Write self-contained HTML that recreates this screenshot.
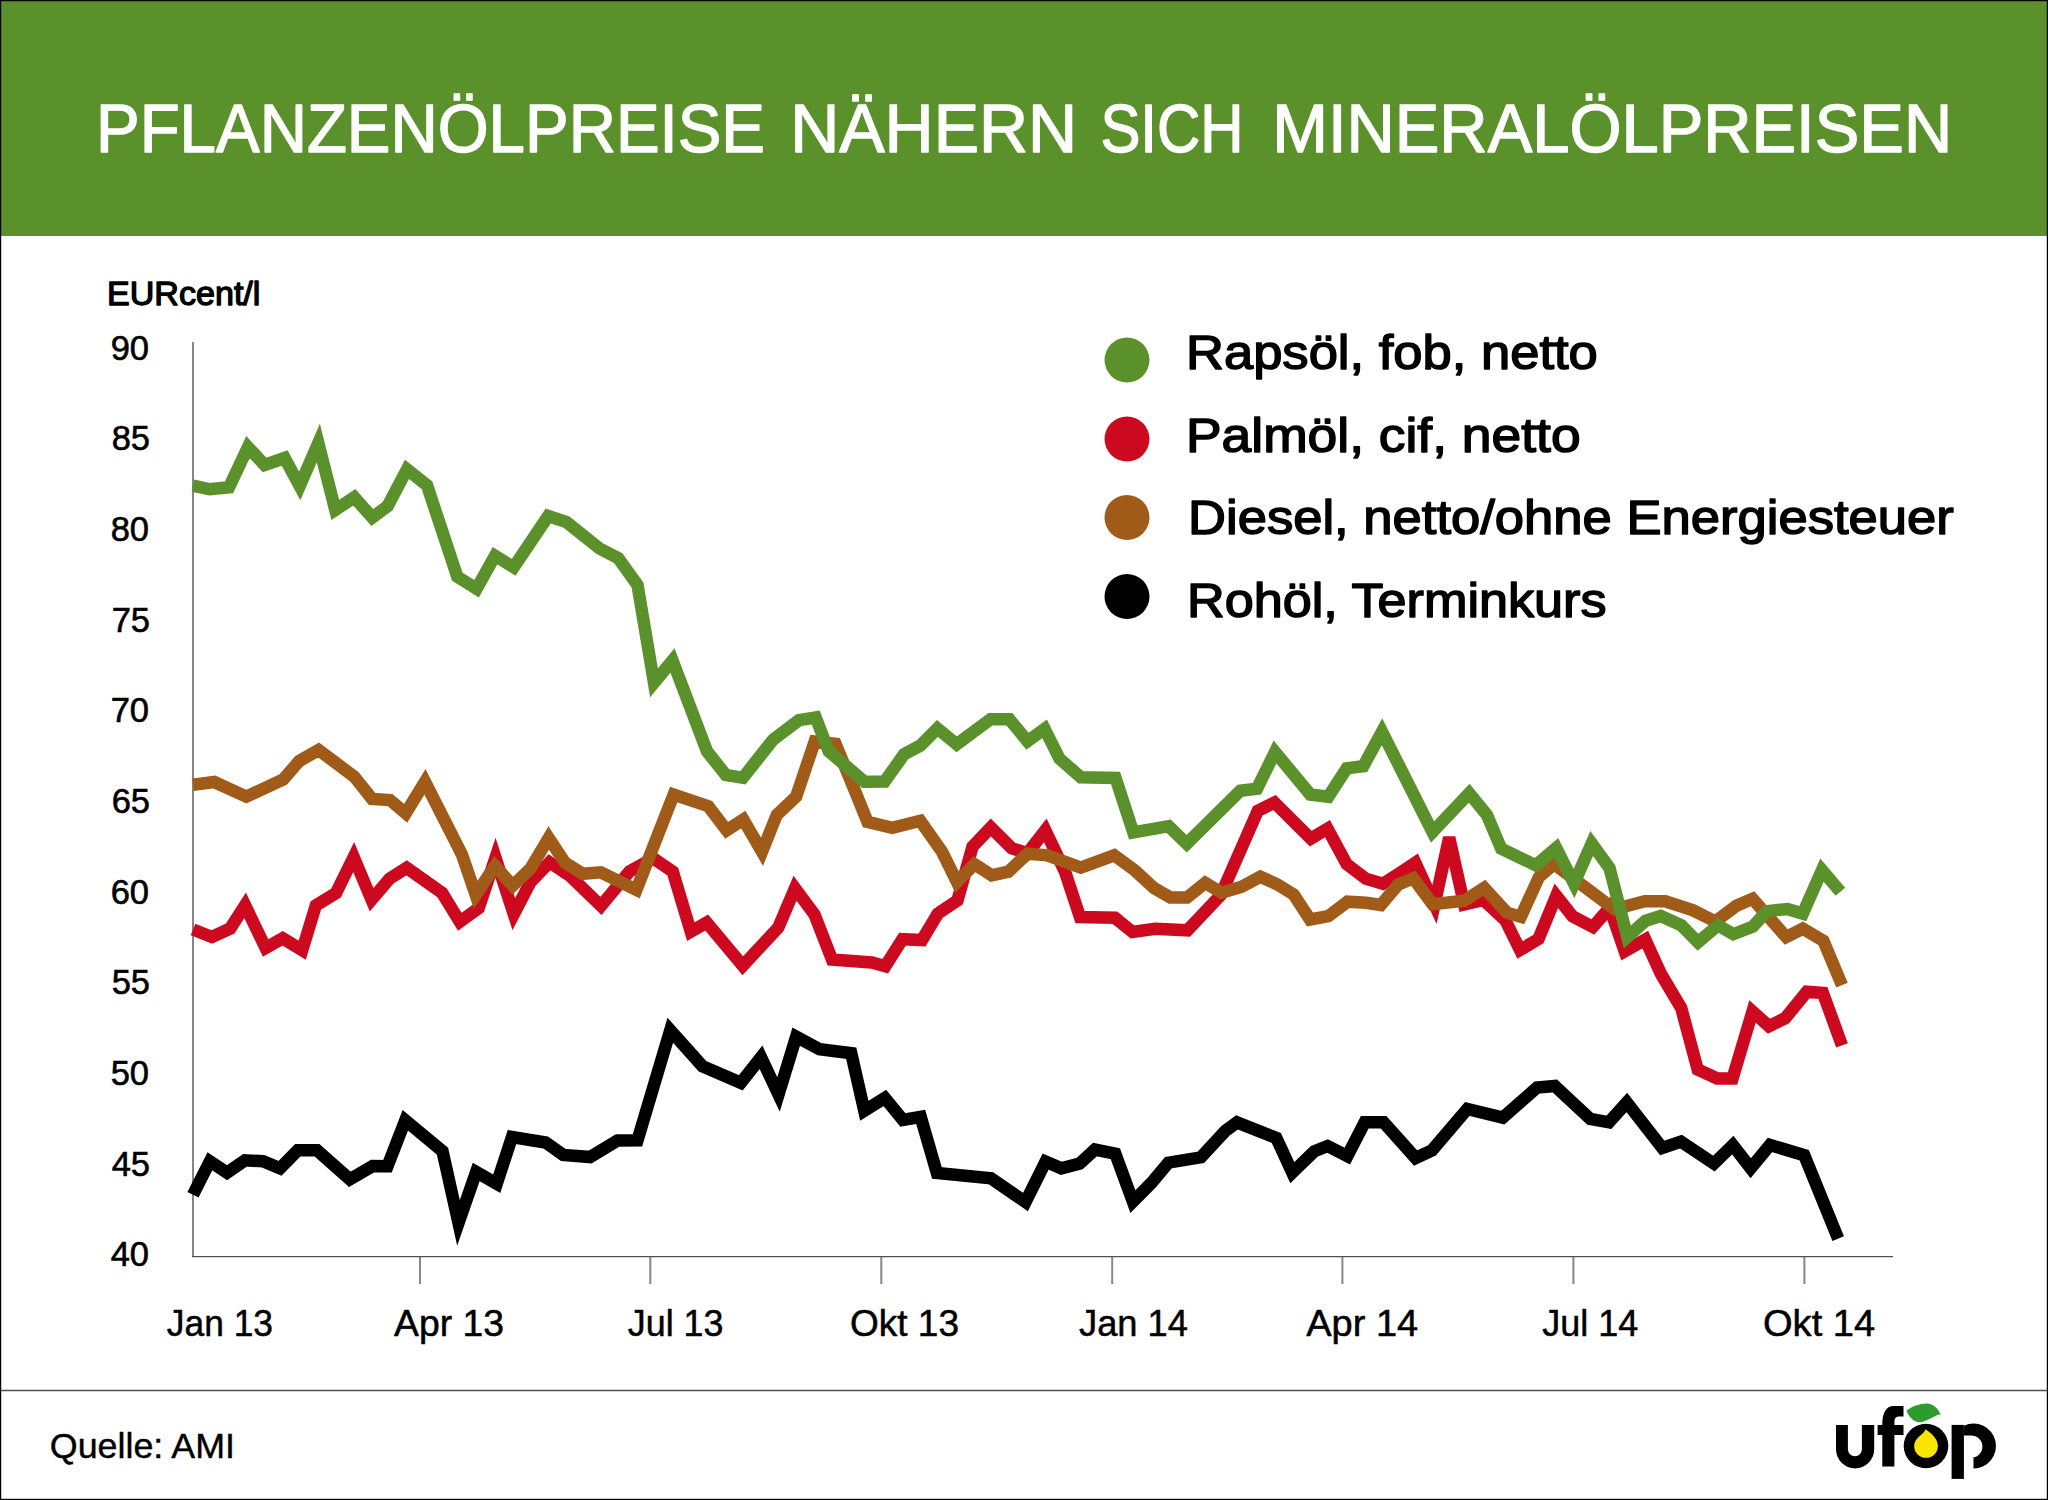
<!DOCTYPE html>
<html><head><meta charset="utf-8">
<style>
html,body{margin:0;padding:0;background:#fff;}
body{width:2048px;height:1500px;overflow:hidden;}
svg{display:block;}
text{font-family:"Liberation Sans",sans-serif;}
</style></head>
<body>
<svg width="2048" height="1500" viewBox="0 0 2048 1500">
<rect x="0" y="0" width="2048" height="1500" fill="#fff"/>
<!-- header -->
<rect x="0" y="0" width="2048" height="236" fill="#5b912a"/>
<text x="96.00" y="152.30" font-size="69" font-weight="normal" fill="#fff" stroke="#fff" stroke-width="1.4" stroke-linejoin="round" textLength="669.00" lengthAdjust="spacingAndGlyphs">PFLANZENÖLPREISE</text>
<text x="790.20" y="152.30" font-size="69" font-weight="normal" fill="#fff" stroke="#fff" stroke-width="1.4" stroke-linejoin="round" textLength="287.00" lengthAdjust="spacingAndGlyphs">NÄHERN</text>
<text x="1100.40" y="152.30" font-size="69" font-weight="normal" fill="#fff" stroke="#fff" stroke-width="1.4" stroke-linejoin="round" textLength="143.20" lengthAdjust="spacingAndGlyphs">SICH</text>
<text x="1272.20" y="152.30" font-size="69" font-weight="normal" fill="#fff" stroke="#fff" stroke-width="1.4" stroke-linejoin="round" textLength="680.00" lengthAdjust="spacingAndGlyphs">MINERALÖLPREISEN</text>
<text x="107.00" y="304.70" font-size="33" font-weight="normal" fill="#000" stroke="#000" stroke-width="1.3" stroke-linejoin="round" textLength="153.40" lengthAdjust="spacingAndGlyphs">EURcent/l</text>
<text x="166.80" y="1335.70" font-size="36.5" font-weight="normal" fill="#000" stroke="#000" stroke-width="0.5" stroke-linejoin="round" textLength="106.20" lengthAdjust="spacingAndGlyphs">Jan 13</text>
<text x="394.00" y="1335.70" font-size="36.5" font-weight="normal" fill="#000" stroke="#000" stroke-width="0.5" stroke-linejoin="round" textLength="110.00" lengthAdjust="spacingAndGlyphs">Apr 13</text>
<text x="627.80" y="1335.70" font-size="36.5" font-weight="normal" fill="#000" stroke="#000" stroke-width="0.5" stroke-linejoin="round" textLength="95.60" lengthAdjust="spacingAndGlyphs">Jul 13</text>
<text x="850.00" y="1335.70" font-size="36.5" font-weight="normal" fill="#000" stroke="#000" stroke-width="0.5" stroke-linejoin="round" textLength="109.00" lengthAdjust="spacingAndGlyphs">Okt 13</text>
<text x="1079.00" y="1335.70" font-size="36.5" font-weight="normal" fill="#000" stroke="#000" stroke-width="0.5" stroke-linejoin="round" textLength="109.00" lengthAdjust="spacingAndGlyphs">Jan 14</text>
<text x="1306.20" y="1335.70" font-size="36.5" font-weight="normal" fill="#000" stroke="#000" stroke-width="0.5" stroke-linejoin="round" textLength="112.00" lengthAdjust="spacingAndGlyphs">Apr 14</text>
<text x="1542.20" y="1335.70" font-size="36.5" font-weight="normal" fill="#000" stroke="#000" stroke-width="0.5" stroke-linejoin="round" textLength="96.00" lengthAdjust="spacingAndGlyphs">Jul 14</text>
<text x="1763.00" y="1335.70" font-size="36.5" font-weight="normal" fill="#000" stroke="#000" stroke-width="0.5" stroke-linejoin="round" textLength="112.20" lengthAdjust="spacingAndGlyphs">Okt 14</text>
<text x="1186.00" y="369.30" font-size="48.6" font-weight="normal" fill="#000" stroke="#000" stroke-width="1.5" stroke-linejoin="round" textLength="411.80" lengthAdjust="spacingAndGlyphs">Rapsöl, fob, netto</text>
<text x="1186.00" y="452.30" font-size="48.6" font-weight="normal" fill="#000" stroke="#000" stroke-width="1.5" stroke-linejoin="round" textLength="394.60" lengthAdjust="spacingAndGlyphs">Palmöl, cif, netto</text>
<text x="1188.00" y="534.30" font-size="48.6" font-weight="normal" fill="#000" stroke="#000" stroke-width="1.5" stroke-linejoin="round" textLength="765.80" lengthAdjust="spacingAndGlyphs">Diesel, netto/ohne Energiesteuer</text>
<text x="1187.00" y="616.60" font-size="48.6" font-weight="normal" fill="#000" stroke="#000" stroke-width="1.5" stroke-linejoin="round" textLength="419.60" lengthAdjust="spacingAndGlyphs">Rohöl, Terminkurs</text>
<text x="49.80" y="1458.00" font-size="35.5" font-weight="normal" fill="#000" stroke="#000" stroke-width="0.4" stroke-linejoin="round" textLength="185.20" lengthAdjust="spacingAndGlyphs">Quelle: AMI</text>
<text x="149.00" y="359.80" font-size="34.5" fill="#000" stroke="#000" stroke-width="0.6" text-anchor="end">90</text>
<text x="150.00" y="450.45" font-size="34.5" fill="#000" stroke="#000" stroke-width="0.6" text-anchor="end">85</text>
<text x="149.00" y="541.10" font-size="34.5" fill="#000" stroke="#000" stroke-width="0.6" text-anchor="end">80</text>
<text x="150.00" y="631.75" font-size="34.5" fill="#000" stroke="#000" stroke-width="0.6" text-anchor="end">75</text>
<text x="149.00" y="722.40" font-size="34.5" fill="#000" stroke="#000" stroke-width="0.6" text-anchor="end">70</text>
<text x="150.00" y="813.05" font-size="34.5" fill="#000" stroke="#000" stroke-width="0.6" text-anchor="end">65</text>
<text x="149.00" y="903.70" font-size="34.5" fill="#000" stroke="#000" stroke-width="0.6" text-anchor="end">60</text>
<text x="150.00" y="994.35" font-size="34.5" fill="#000" stroke="#000" stroke-width="0.6" text-anchor="end">55</text>
<text x="149.00" y="1085.00" font-size="34.5" fill="#000" stroke="#000" stroke-width="0.6" text-anchor="end">50</text>
<text x="150.00" y="1175.65" font-size="34.5" fill="#000" stroke="#000" stroke-width="0.6" text-anchor="end">45</text>
<text x="149.00" y="1266.30" font-size="34.5" fill="#000" stroke="#000" stroke-width="0.6" text-anchor="end">40</text>
<!-- axes -->
<g fill="none">
<path d="M193 342 V1256.6" stroke="#868686" stroke-width="2"/>
<path d="M420 1256 V1284 M650.3 1256 V1284 M881.3 1256 V1284 M1112.2 1256 V1284 M1342.4 1256 V1284 M1573.4 1256 V1284 M1804.4 1256 V1284" stroke="#888" stroke-width="2"/>
<path d="M192 1256.6 H1893" stroke="#505050" stroke-width="1.4"/>
</g>
<!-- legend -->
<circle cx="1127" cy="360" r="22.5" fill="#5b912a"/>
<circle cx="1127" cy="439" r="22.5" fill="#cd091f"/>
<circle cx="1127" cy="517.5" r="22.5" fill="#a15b19"/>
<circle cx="1127" cy="596.5" r="22.5" fill="#000"/>
<polyline fill="none" stroke="#cd091f" stroke-width="12.5" stroke-linejoin="miter" stroke-miterlimit="4" stroke-linecap="butt" points="193,929.5 211.9,937 230.2,928.5 245.1,905.3 265.6,948 282.7,938.3 302.2,950.2 315.9,905.3 336,893.1 353.7,857.1 371.6,899.8 389.5,878.8 406.7,867.8 442.1,892.9 459.8,921.8 478.7,908.1 495.5,857.7 513.8,914.2 530.6,881.9 549.5,862.3 569.9,875.8 601,905.9 629.5,871.5 653.3,858.3 672.8,871.7 690.8,931.7 706.7,922.5 742.8,965.8 778.3,927.5 795,888.3 814.5,914.5 832,959.5 871.8,962.5 885.3,966.2 902.5,939.2 922,940 937.8,913.7 957.5,900.3 972.5,846.7 990.8,827.5 1011.7,848.3 1027.5,853.2 1045.3,830.3 1065,871.7 1080,917 1115,917.8 1132.5,932 1155,928.7 1187.5,930.3 1220.8,895 1257.8,810.8 1274.5,802.5 1310.8,838.7 1327.5,828.7 1346.7,864.2 1365.8,878.7 1382.8,883.7 1396.7,875 1415.3,862.8 1434.5,904.5 1449.2,837.5 1464.2,904.5 1483.3,900 1505.5,920.5 1520,950 1538.5,939 1556.3,895.8 1572.6,916.4 1592.8,927 1609.6,907.8 1624.7,951.3 1645.3,939.6 1661,974 1681.2,1008 1697.7,1069.5 1717.2,1078.5 1732.5,1078.5 1752.5,1011.5 1769,1026.2 1785.2,1018.2 1806.8,991.8 1822.9,992.9 1842,1045.4"/>
<polyline fill="none" stroke="#a15b19" stroke-width="12.5" stroke-linejoin="miter" stroke-miterlimit="4" stroke-linecap="butt" points="193,784.7 214.3,782 246.3,796.7 283.3,779.3 299.3,761 318.6,750 354.3,776.7 372,799 390,800 405.7,813.3 425,781.8 462,854.7 475.7,894.7 495,866 512.7,885.7 530.6,868.4 548.7,838.1 564.8,862.5 582.9,873.8 600.9,872.3 636.4,889.8 673.7,794.5 708.3,806.2 726.7,830.3 743.3,819.5 762,851.7 776.7,815 796.2,796.5 814.7,741.5 835.5,743.9 855,791 867.5,821.9 892.3,827.9 920.3,820.8 942,851.7 957,882 974.5,864.2 991.7,875.3 1008.3,871.7 1027.5,853.7 1047.5,855.3 1080.8,867.5 1114.2,855.3 1135.3,870.8 1154.2,888.3 1170.3,897.5 1187,897.5 1205.3,882.8 1221.7,892.8 1241.7,886.7 1260.3,876.7 1277,884.2 1293.7,894.5 1310,919.5 1328.3,916.2 1347.5,901.7 1366.2,902.8 1380.8,905 1398.3,884.5 1413.3,878.3 1432.5,904.2 1464.2,900.8 1484.2,887.8 1507,912.8 1520.8,916.7 1539,877 1554,864 1614.4,909.2 1644.8,901.2 1665.3,901.3 1693.1,910.4 1715.4,921.5 1736.4,905.8 1752.6,898.8 1786.3,937.1 1802.8,928.7 1823.4,940.8 1842,985.2"/>
<polyline fill="none" stroke="#5b912a" stroke-width="12.5" stroke-linejoin="miter" stroke-miterlimit="4" stroke-linecap="butt" points="193,485.6 209.7,489.3 229,487.3 248,447 264.6,465 284.6,458 299.7,486 318.3,443 335.3,510 354.3,497.3 372.3,517.6 387.7,506 407,469.3 427,485.3 457.3,576.7 476.6,588.8 495,555.7 513.7,567.3 548.2,516 566.5,522.1 599.6,548.6 618.2,558.2 637.5,585 654,682.8 672.5,660.5 707.1,751.5 725.8,774.9 742.9,777.8 773.3,739.4 798.9,720.2 815.7,717.5 828.7,751.2 864.5,781.7 884.6,781.6 904.2,754.1 920.3,745.6 937.4,728.5 956.7,744.3 990.5,719.3 1009.4,719.3 1027.5,741.3 1044.6,728.8 1059.5,758.7 1080.8,777.3 1115.5,777.9 1133.3,832.5 1168.7,826.2 1186.7,843.7 1240.3,790.8 1257,788.7 1275,752 1310.3,794.5 1328.3,796.7 1346.7,768.3 1363.3,766.2 1382,731.7 1432.5,832 1469.2,793.3 1487,815 1501.2,848.7 1535.8,865.3 1556.2,848 1574,883.5 1591.7,843.5 1609.5,868 1627.3,937 1645.5,920.8 1660.7,916 1681.3,925.3 1698,942.3 1718,925.3 1733.3,934.2 1753,926.5 1766.9,911.1 1787.4,909 1802.8,913.6 1822,870.1 1840.4,891.8"/>
<polyline fill="none" stroke="#000" stroke-width="12.5" stroke-linejoin="miter" stroke-miterlimit="4" stroke-linecap="butt" points="193,1194.7 209.9,1161.3 227,1172.7 245,1160.3 263,1161.3 280,1168.3 297.7,1150.3 317,1150.3 349.8,1179.3 372.6,1166 387.5,1166.2 405.3,1120.3 442.5,1151.2 458.5,1222.9 476.2,1172 496.7,1183.7 512,1137 545.6,1142.5 563.2,1154.9 590.1,1157.1 617.6,1140.4 637.5,1140.2 670.3,1030.3 702.5,1066.2 740.8,1082.8 761,1057.3 778.5,1094.5 796.2,1036.7 819.5,1049.2 851.2,1053.2 864.3,1110.7 884.8,1097.9 902.9,1120 920.7,1116.9 936.9,1173 991,1178.3 1025.5,1202 1045.6,1161.6 1061.3,1168.3 1079.6,1163.6 1094.9,1149.6 1115.3,1153.6 1132.9,1201.6 1151.6,1182.7 1168.3,1162.7 1201,1157.3 1225.3,1131 1237,1122.4 1276.3,1138 1292.3,1172.7 1314.3,1151.3 1327.6,1146 1347.3,1156 1364.7,1122.3 1383.6,1122.3 1415.6,1158 1432,1150.3 1467.3,1109 1502.7,1117.6 1537,1087.6 1554.8,1086 1590.3,1119 1609,1122.3 1626.8,1102.5 1662.3,1148 1681,1141.6 1713.9,1163.6 1732.8,1145.1 1750.7,1168.2 1770,1145 1804.2,1155.2 1838.2,1238.7"/>

<!-- footer -->
<path d="M0 1390.5 H2048" stroke="#505050" stroke-width="1.4"/>
<g id="logo">
<path fill="#000" d="M1836,1424.9 H1847.9 V1449.3 A7,7 0 0 0 1861.9,1449.3 V1424.9 H1874.2 V1449.3 A19.1,19.1 0 0 1 1836,1449.3 Z"/>
<path fill="#000" d="M1882.3,1466.6 V1424 C1882.3,1412 1887,1406.1 1893.5,1406.1 H1903.5 V1416.4 H1898.5 C1895.8,1416.4 1894.4,1418.5 1894.4,1421.5 V1466.6 Z"/>
<rect x="1877.6" y="1425" width="25.9" height="10" fill="#000"/>
<circle cx="1926" cy="1446" r="22.3" fill="#000"/>
<path fill="#fbe400" d="M1925.43,1429.19 C1924.95,1431.59 1922.55,1433.51 1919.19,1436.39 C1915.83,1439.27 1914.16,1442.63 1914.16,1445.99 A11.87,11.87 0 0 0 1937.91,1445.99 C1937.91,1440.23 1933.59,1434.47 1925.43,1429.19 Z"/>
<path fill="#2c9c2e" d="M1906.48,1410.72 C1912.0,1406.4 1920.6,1403.3 1926.9,1403.5 C1933.1,1403.8 1937.9,1408.1 1940.8,1414.8 L1938.4,1414.55 C1932.6,1417.2 1925.0,1422.0 1920.15,1422.2 C1913.9,1422.5 1909.1,1417.2 1906.48,1410.72 Z"/>
<path fill="#000" d="M1951.6,1424.9 H1963.9 V1478.9 H1951.6 Z"/>
<path fill="#000" d="M1963.9,1425.8 A22.4,22.4 0 1 1 1973.5,1468.4 V1457.8 H1971.2 A11.2,11.2 0 0 0 1971.2,1435.4 H1963.9 Z"/>
</g>
<!-- border -->
<rect x="0.6" y="0.6" width="2046.8" height="1498.8" fill="none" stroke="#000" stroke-width="1.2"/>
</svg>
</body></html>
